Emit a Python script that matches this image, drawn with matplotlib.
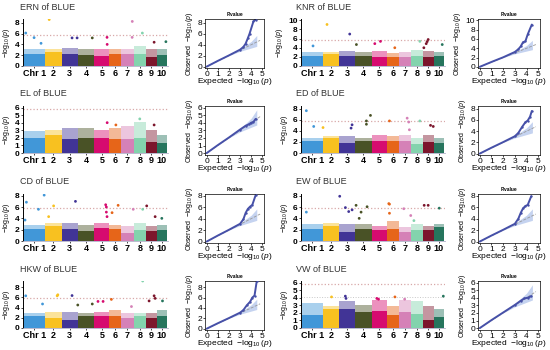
import matplotlib
matplotlib.use('Agg')
import matplotlib.pyplot as plt
import numpy as np

plt.rcParams['font.family'] = ['Liberation Sans', 'DejaVu Sans']
plt.rcParams['mathtext.fontset'] = 'custom'
plt.rcParams['mathtext.rm'] = 'Liberation Sans'
plt.rcParams['mathtext.it'] = 'Liberation Sans:italic'

# maize chromosome lengths (Mb)
chrom_len = [307, 244, 235, 246, 223, 174, 182, 181, 159, 150]
chrom_labels = ['Chr 1', '2', '3', '4', '5', '6', '7', '8', '9', '10']
chrom_colors = ['#4197d8', '#f8c120', '#413496', '#495226', '#d60b6f',
                '#e66519', '#d581b7', '#83d3ad', '#7c162c', '#26755d']

traits = ['ERN', 'KNR', 'EL', 'ED', 'CD', 'EW', 'HKW', 'VW']

# dense body of each chromosome: solid core height and ragged top height
ern_core = [2.2, 2.5, 2.2, 2.0, 1.9, 2.2, 2.2, 2.2, 1.75, 2.0]
ern_top = [3.2, 3.1, 3.4, 3.2, 3.1, 3.1, 3.2, 3.7, 3.1, 3.1]
knr_core = [2.25, 2.6, 2.25, 2.25, 1.9, 2.0, 2.0, 2.25, 1.9, 2.1]
knr_top = [3.0, 3.0, 3.3, 3.1, 3.3, 2.8, 3.0, 3.45, 3.3, 3.0]
el_core = [2.0, 2.4, 1.8, 2.0, 2.0, 1.9, 1.8, 2.0, 1.4, 1.3]
el_top = [2.85, 3.1, 3.3, 3.3, 3.1, 3.3, 3.5, 4.1, 3.1, 2.4]
ed_core = [2.1, 2.7, 1.8, 2.1, 2.1, 2.1, 2.1, 1.6, 2.0, 1.8]
ed_top = [2.7, 3.0, 3.0, 2.7, 3.3, 3.0, 3.3, 2.7, 3.3, 2.7]
cd_core = [2.1, 2.6, 2.1, 1.7, 2.3, 2.1, 1.4, 2.0, 1.7, 2.0]
cd_top = [2.85, 3.1, 3.1, 2.85, 3.1, 2.85, 2.6, 3.1, 2.6, 2.85]
ew_core = [2.2, 2.7, 1.6, 2.2, 1.9, 2.2, 1.6, 1.9, 1.9, 2.5]
ew_top = [3.0, 3.1, 3.0, 3.0, 2.7, 3.6, 2.5, 3.0, 2.7, 3.0]
hkw_core = [2.3, 1.95, 1.6, 2.3, 2.3, 2.3, 1.95, 2.3, 1.95, 2.3]
hkw_top = [2.9, 3.1, 3.2, 2.9, 3.2, 3.6, 2.9, 2.9, 2.9, 3.6]
vw_core = [1.65, 2.5, 2.5, 2.1, 2.3, 1.65, 2.1, 1.85, 1.0, 1.45]
vw_top = [3.3, 2.9, 3.5, 3.1, 3.7, 2.9, 3.7, 3.5, 2.9, 2.5]

# notable SNPs: (chromosome, position Mb, -log10 p)
ern_hits = [(1, 25, 6.1), (1, 148, 5.25), (1, 250, 4.2), (2, 63, 8.6), (3, 155, 5.2),
            (3, 229, 5.2), (4, 217, 5.2), (5, 188, 5.3), (5, 190, 4.0), (7, 162, 8.25),
            (7, 160, 5.3), (8, 128, 6.1), (9, 120, 4.4), (10, 134, 4.5)]
knr_hits = [(1, 163, 4.4), (2, 63, 9.1), (3, 155, 7.0), (4, 19, 4.7), (5, 45, 4.9),
            (5, 129, 5.4), (6, 118, 4.0), (8, 133, 5.4), (9, 11, 4.0), (9, 46, 4.9),
            (9, 60, 5.35), (9, 75, 5.8), (10, 124, 4.7)]
el_hits = [(5, 190, 4.0), (6, 95, 3.7), (8, 90, 4.5), (9, 120, 3.7)]
ed_hits = [(1, 64, 7.65), (1, 173, 4.8), (2, 4, 4.6), (3, 175, 4.5), (3, 190, 5.1),
           (4, 167, 5.8), (4, 167, 5.2), (4, 227, 6.8), (6, 39, 5.8), (7, 127, 6.3),
           (7, 150, 5.6), (7, 160, 4.2), (8, 133, 5.8), (9, 110, 5.0), (9, 150, 4.8)]
cd_hits = [(1, 15, 3.7), (1, 35, 6.85), (1, 212, 5.6), (1, 296, 8.1), (2, 55, 4.3),
           (2, 128, 6.2), (3, 205, 7.0), (5, 168, 6.4), (5, 178, 6.0), (5, 178, 5.1),
           (5, 188, 4.3), (6, 39, 5.0), (6, 128, 6.3), (7, 176, 5.6), (8, 133, 5.6),
           (9, 11, 6.2), (9, 135, 4.3), (10, 74, 4.0)]
ew_hits = [(1, 64, 5.1), (3, 7, 7.9), (3, 91, 5.9), (3, 140, 5.2), (3, 190, 5.5),
           (4, 14, 6.3), (4, 60, 4.0), (4, 88, 5.1), (4, 177, 6.05), (6, 29, 6.6),
           (6, 39, 6.5), (6, 39, 4.9), (7, 77, 5.7), (7, 180, 4.5), (8, 45, 3.6),
           (9, 16, 6.3), (9, 75, 6.3), (10, 80, 5.8)]
hkw_hits = [(1, 25, 6.3), (1, 272, 4.7), (2, 180, 6.3), (2, 190, 6.5), (3, 155, 6.35),
            (4, 4, 4.5), (4, 217, 4.7), (5, 55, 5.2), (5, 130, 5.2), (6, 29, 5.6),
            (7, 150, 4.2), (8, 133, 9.2), (9, 46, 5.3), (9, 120, 6.3), (9, 135, 5.8),
            (10, 84, 5.3)]
vw_hits = [(2, 130, 4.1), (3, 90, 4.2), (3, 100, 3.9), (5, 75, 3.9), (5, 100, 3.8),
           (6, 120, 4.1), (7, 90, 3.8), (10, 140, 4.2)]

# QQ plot: expected vs observed -log10 p
ern_qq_exp = [0, 1, 2, 3, 3.3, 3.5, 3.7, 3.85, 4.2, 4.4]
ern_qq_obs = [0, 1.05, 2.05, 3.1, 3.6, 4.2, 5.2, 6.0, 8.25, 8.6]
knr_qq_exp = [0, 1, 2, 3, 3.3, 3.5, 3.7, 3.9, 4.1, 4.45]
knr_qq_obs = [0, 1.05, 2.05, 3.2, 3.8, 4.4, 5.3, 5.5, 7.0, 9.1]
el_qq_exp = [0, 1, 2, 3, 3.5, 3.8, 4.0, 4.2, 4.4]
el_qq_obs = [0, 1.05, 2.05, 3.1, 3.6, 3.8, 4.0, 4.1, 4.5]
ed_qq_exp = [0, 1, 2, 3, 3.3, 3.6, 3.9, 4.1, 4.3, 4.45]
ed_qq_obs = [0, 1.05, 2.05, 3.1, 3.7, 4.7, 5.6, 5.9, 6.6, 7.6]
cd_qq_exp = [0, 1, 2, 3, 3.3, 3.5, 3.7, 3.9, 4.1, 4.4]
cd_qq_obs = [0, 1.05, 2.05, 3.1, 3.9, 5.0, 5.7, 6.1, 6.4, 8.1]
ew_qq_exp = [0, 1, 2, 3, 3.3, 3.5, 3.7, 3.9, 4.1, 4.4]
ew_qq_obs = [0, 1.05, 2.05, 3.1, 4.0, 5.0, 5.8, 6.2, 6.4, 7.9]
hkw_qq_exp = [0, 1, 2, 3, 3.3, 3.6, 3.9, 4.1, 4.3, 4.5]
hkw_qq_obs = [0, 1.05, 2.05, 3.1, 3.6, 4.5, 5.2, 6.0, 6.4, 9.2]
vw_qq_exp = [0, 1, 2, 3, 3.5, 3.8, 4.1, 4.4]
vw_qq_obs = [0, 1.05, 2.05, 3.05, 3.6, 3.9, 4.0, 4.2]

# confidence band of the QQ plots
band_x = [0, 1, 2, 3, 3.5, 4, 4.5]
band_lo = [0, 1, 2, 2.8, 3.1, 3.4, 3.7]
band_hi = [0, 1, 2, 3.2, 3.9, 4.6, 5.7]

y_max = [8.7, 10.3, 6.2, 8.5, 8.3, 8.3, 9.2, 6.2]
y_step = [2, 2, 1, 2, 2, 2, 2, 1]
threshold = 5.8

data = {
    'ERN': (ern_core, ern_top, ern_hits, ern_qq_exp, ern_qq_obs),
    'KNR': (knr_core, knr_top, knr_hits, knr_qq_exp, knr_qq_obs),
    'EL': (el_core, el_top, el_hits, el_qq_exp, el_qq_obs),
    'ED': (ed_core, ed_top, ed_hits, ed_qq_exp, ed_qq_obs),
    'CD': (cd_core, cd_top, cd_hits, cd_qq_exp, cd_qq_obs),
    'EW': (ew_core, ew_top, ew_hits, ew_qq_exp, ew_qq_obs),
    'HKW': (hkw_core, hkw_top, hkw_hits, hkw_qq_exp, hkw_qq_obs),
    'VW': (vw_core, vw_top, vw_hits, vw_qq_exp, vw_qq_obs),
}

W, H = 550, 350
fig = plt.figure(figsize=(5.5, 3.5), dpi=100)


def px_axes(x0, x1, ytop, ybot):
    return fig.add_axes([x0 / W, 1 - ybot / H, (x1 - x0) / W, (ybot - ytop) / H])


offsets = np.concatenate([[0], np.cumsum(chrom_len)[:-1]])
centers = offsets + np.array(chrom_len) / 2
total = sum(chrom_len)

baselines = [66, 153, 241, 328]
man_x = [(23, 168), (301, 445)]
qq_x = [(205, 264), (478, 540)]
title_x = [20, 296]
ylab_sz = 5

for i, trait in enumerate(traits):
    row, col = i // 2, i % 2
    yb = baselines[row]
    core, top, hits, qexp, qobs = data[trait]
    ymax = y_max[i]
    ticks = np.arange(0, ymax + 0.01, y_step[i])

    # Manhattan panel
    ax = px_axes(man_x[col][0], man_x[col][1], yb - 47, yb)
    ax.bar(centers, top, width=chrom_len, color=chrom_colors, alpha=0.45, linewidth=0)
    ax.bar(centers, core, width=chrom_len, color=chrom_colors, linewidth=0)
    hx = [offsets[c - 1] + p for c, p, v in hits]
    hy = [v for c, p, v in hits]
    hc = [chrom_colors[c - 1] for c, p, v in hits]
    ax.scatter(hx, hy, s=4, c=hc, linewidths=0, zorder=3)
    ax.axhline(threshold, color='#d8a8a8', linestyle=':', linewidth=0.9)
    if trait == 'VW':
        ax.axhline(4.1, color='#c8c8c8', linestyle=':', linewidth=0.7)
    ax.set_xlim(-15, total + 15)
    ax.set_ylim(0, ymax)
    ax.set_yticks(ticks)
    ax.set_yticklabels([f'{t:g}' for t in ticks], fontsize=6, fontweight='bold')
    ax.set_xticks(centers)
    ax.set_xticklabels(chrom_labels, fontsize=6.5, fontweight='bold')
    ax.tick_params(axis='both', length=1.5, width=0.5, pad=1)
    for s in ['top', 'right']:
        ax.spines[s].set_visible(False)
    ax.spines['bottom'].set_color('#b0b0c8')
    ax.spines['bottom'].set_linewidth(0.6)
    ax.spines['left'].set_linewidth(0.7)
    ax.set_ylabel(r'$-\log_{10}(p)$', fontsize=ylab_sz, labelpad=2)
    fig.text(title_x[col] / W, 1 - (yb - 59) / H, f'{trait} of BLUE',
             fontsize=6.5, color='#333333', va='center', ha='left')

    # QQ panel
    qx = px_axes(qq_x[col][0], qq_x[col][1], yb - 47, yb + 2)
    qx.fill_between(band_x, band_lo, band_hi, color='#c5d3f0', linewidth=0)
    qx.plot([0, 4.8], [0, 4.8], linestyle='--', color='#999999', linewidth=0.6)
    qx.plot(qexp, qobs, color='#4650a8', linewidth=1.4, solid_capstyle='round')
    qx.scatter(qexp[3:], qobs[3:], s=3, color='#4650a8', linewidths=0, zorder=3)
    qx.set_xlim(-0.15, 5.15)
    qx.set_ylim(-0.25, ymax)
    qx.set_xticks(range(6))
    qx.set_yticks(ticks)
    qx.set_yticklabels([f'{t:g}' for t in ticks])
    qx.tick_params(axis='both', labelsize=6, length=1.5, width=0.5, pad=0.5)
    for s in qx.spines.values():
        s.set_linewidth(0.5)
    qx.set_xlabel(r'Expected  $-\log_{10}(p)$', fontsize=6, labelpad=-1)
    qx.set_ylabel(r'Observed  $-\log_{10}(p)$', fontsize=ylab_sz, labelpad=2)
    qx.set_title('P.value', fontsize=3.5, fontweight='bold', pad=2)

fig.savefig('out.png', dpi=100)
